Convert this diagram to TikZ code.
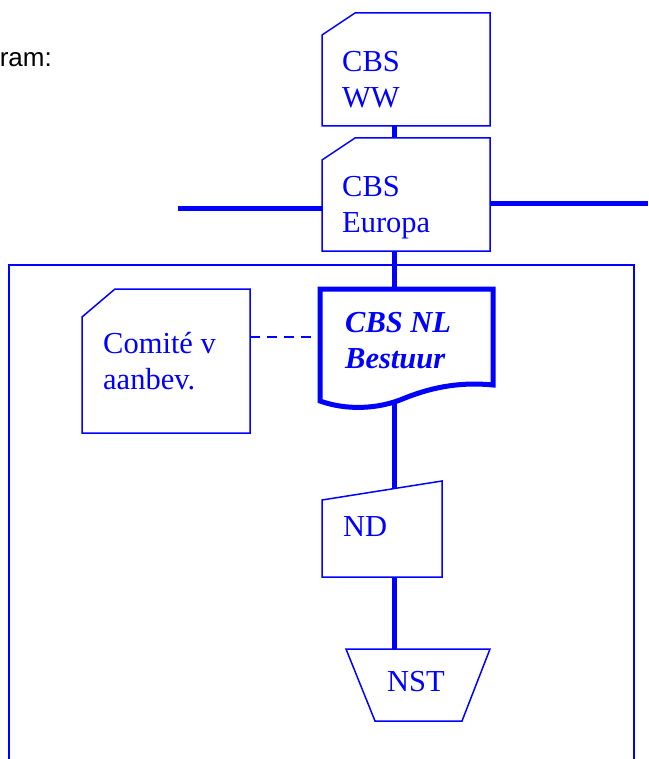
\documentclass[tikz,border=0pt]{standalone}
\usepackage{fontspec}
\setmainfont{Liberation Serif}
\newfontfamily\arialfont{Liberation Sans}
\definecolor{pblue}{RGB}{0,0,255}
\begin{document}
\begin{tikzpicture}[x=1pt,y=-1pt,
  outl/.style={draw=pblue, line width=1.5pt, line join=miter},
  thickoutl/.style={draw=pblue, line width=5pt, line join=miter},
  conn/.style={draw=pblue, line width=5pt},
  dashconn/.style={draw=pblue, line width=1.5pt, dash pattern=on 10pt off 7pt},
  area/.style={draw=none, inner sep=0pt, outer sep=0pt, rectangle},
  lbl/.style={text=pblue, font=\fontsize{30.5}{36}\selectfont, anchor=base west, inner sep=0pt, align=left},
  blbl/.style={lbl, font=\fontsize{30.5}{36}\selectfont\bfseries\itshape}]
\useasboundingbox (0,0) rectangle (648,759);
\clip (0,0) rectangle (648,759);

% invisible named areas
\node[area, minimum width=168pt, minimum height=113pt] (ww) at (406,69.5) {};
\node[area, minimum width=168pt, minimum height=113pt] (eu) at (406,194.5) {};
\node[area, minimum width=168pt, minimum height=144pt] (com) at (166,361) {};
\node[area, minimum width=173pt, minimum height=112pt] (nl) at (406.5,345) {};
\node[area, minimum width=120pt, minimum height=96pt] (nd) at (382,529) {};
\node[area, minimum width=144pt, minimum height=72pt] (nst) at (418,685) {};
\coordinate (spine) at (394,0);
\coordinate (ndtop) at (394,488.6);
\coordinate (lend) at (178,208.5);
\coordinate (rend) at (648,203.5);

% connectors
\draw[conn] (ww.south -| spine) -- (eu.north -| spine);
\draw[conn] (lend) -- (lend -| eu.west);
\draw[conn] (eu.east |- rend) -- (rend);
\draw[conn] (eu.south -| spine) -- (nl.north -| spine);
\draw[conn] (nl.south -| spine) -- (ndtop);
\draw[conn] (nd.south -| spine) -- (nst.north -| spine);
\draw[dashconn] ([yshift=24pt]com.east) -- ([yshift=24pt]com.east -| nl.west);

% frame
\draw[outl] (9,765) -- (9,265) -- (634,265) -- (634,765);

% shapes
\draw[outl] ([yshift=-22pt]ww.north west) -- ([xshift=33pt]ww.north west) -- (ww.north east) -- (ww.south east) -- (ww.south west) -- cycle;
\draw[outl] ([yshift=-22pt]eu.north west) -- ([xshift=33pt]eu.north west) -- (eu.north east) -- (eu.south east) -- (eu.south west) -- cycle;
\draw[outl] ([yshift=-28pt]com.north west) -- ([xshift=33pt]com.north west) -- (com.north east) -- (com.south east) -- (com.south west) -- cycle;
\draw[thickoutl] (nl.south west) -- (nl.north west) -- (nl.north east) -- (493,385)
  .. controls (463,382) and (435,386) .. (405,398)
  .. controls (377,410) and (345,410) .. (nl.south west) -- cycle;
\draw[outl] (nd.south west) -- (322,500) -- (442,481) -- (nd.south east) -- cycle;
\draw[outl] (nst.north west) -- (nst.north east) -- ([xshift=-28pt]nst.south east) -- ([xshift=29pt]nst.south west) -- cycle;

% labels (base anchor = baseline of the last line)
\node[lbl] (twww) at (342,107.5) {CBS\\WW};
\node[lbl] (tweu) at (342,232.5) {CBS\\Europa};
\node[lbl] (twcom) at (103,389.5) {Comité v\\aanbev.};
\node[blbl] (twnl) at (345,368) {CBS NL\\Bestuur};
\node[lbl] (twnd) at (343,536.7) {ND};
\node[lbl] (twnst) at (387,691) {NST};
\node[anchor=base east, inner sep=0pt, font=\arialfont\fontsize{26}{30}\selectfont] (ram) at (52,67) {ram:};
\end{tikzpicture}
\end{document}
